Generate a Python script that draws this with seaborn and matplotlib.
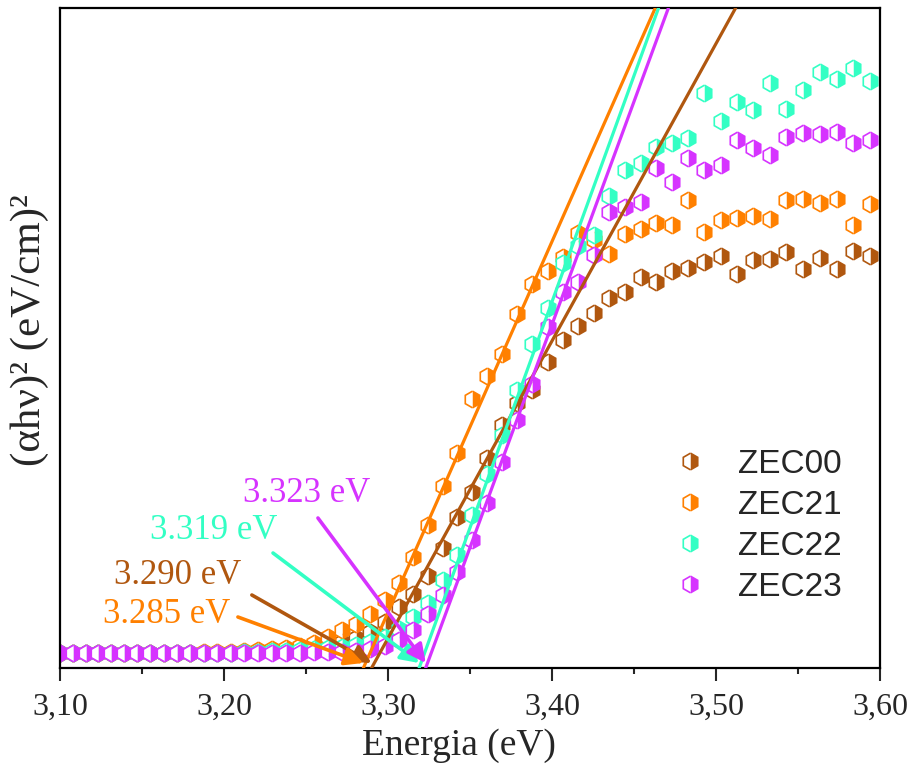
import numpy as np
import pandas as pd
import matplotlib
matplotlib.use('Agg')
import matplotlib.pyplot as plt
from matplotlib.lines import Line2D
import seaborn as sns

# photon energy (eV) of each measured point
energy = [3.1000, 3.1078, 3.1156, 3.1234, 3.1313, 3.1392, 3.1472, 3.1552, 3.1633, 3.1714,
          3.1795, 3.1877, 3.1959, 3.2041, 3.2124, 3.2208, 3.2292, 3.2376, 3.2461, 3.2546,
          3.2632, 3.2718, 3.2804, 3.2891, 3.2979, 3.3067, 3.3155, 3.3244, 3.3333, 3.3423,
          3.3514, 3.3604, 3.3696, 3.3787, 3.3880, 3.3973, 3.4066, 3.4160, 3.4254, 3.4349,
          3.4444, 3.4540, 3.4637, 3.4734, 3.4831, 3.4930, 3.5028, 3.5127, 3.5227, 3.5328,
          3.5429, 3.5530, 3.5632, 3.5735, 3.5838, 3.5942, 3.6047]

# (alpha h nu)^2, arbitrary units
zec00 = [15, 15, 15, 15, 15, 15, 15, 15, 15, 15, 15, 15, 15, 15, 16, 16, 17, 17, 18, 20,
         22, 26, 30, 36, 46, 61, 74, 92, 120, 151, 176, 210, 243, 265, 278, 306, 328, 342, 355, 370,
         376, 391, 386, 397, 400, 406, 412, 394, 408, 409, 416, 399, 410, 399, 417, 412, 415]
zec21 = [15, 15, 15, 15, 15, 15, 15, 15, 15, 15, 15, 16, 16, 16, 17, 18, 19, 20, 22, 25,
         31, 38, 44, 54, 68, 85, 111, 143, 182, 215, 269, 292, 314, 354, 384, 397, 411, 435, 428, 414,
         434, 439, 445, 443, 468, 436, 448, 450, 452, 449, 468, 469, 465, 469, 443, 464, 465]
zec22 = [15, 15, 15, 15, 15, 15, 15, 15, 15, 15, 15, 15, 15, 15, 16, 16, 17, 17, 18, 19,
         20, 21, 23, 26, 31, 39, 51, 65, 88, 113, 153, 194, 233, 278, 324, 360, 405, 422, 433, 472,
         498, 505, 521, 525, 530, 575, 547, 566, 558, 585, 559, 578, 596, 589, 600, 587, 590]
zec23 = [15, 15, 15, 15, 15, 15, 15, 15, 15, 15, 15, 15, 15, 15, 15, 15, 15, 15, 15, 16,
         16, 16, 17, 19, 22, 28, 38, 54, 73, 96, 128, 165, 206, 248, 284, 341, 376, 386, 413, 456,
         461, 466, 500, 486, 510, 498, 503, 528, 520, 513, 531, 535, 534, 536, 525, 528, 528]

samples = ['ZEC00', 'ZEC21', 'ZEC22', 'ZEC23']
colors = ['#B0570F', '#FF8000', '#33FFC4', '#D633FF']

# linear fits: energy where fit crosses zero and where it reaches top of plot (y=660)
fit_gap = [3.290, 3.285, 3.319, 3.323]
fit_top = [3.512, 3.463, 3.465, 3.471]
y_top = 660

xticks = [3.10, 3.20, 3.30, 3.40, 3.50, 3.60]
xticklabels = ['3,10', '3,20', '3,30', '3,40', '3,50', '3,60']

sns.set_style('ticks')
plt.rcParams['font.family'] = ['Liberation Serif', 'DejaVu Serif']

df = pd.DataFrame({'energy': energy, 'ZEC00': zec00, 'ZEC21': zec21,
                   'ZEC22': zec22, 'ZEC23': zec23})

fig = plt.figure(figsize=(9.1, 7.68), dpi=100)
ax = fig.add_axes([0.0659, 0.1302, 0.9011, 0.8594])

for name, c in zip(samples, colors):
    sns.lineplot(data=df, x='energy', y=name, ax=ax, color=c, linestyle='',
                 marker='h', markersize=12, fillstyle='right',
                 markerfacecoloralt='white', markeredgecolor=c,
                 markeredgewidth=1.2, estimator=None, sort=False, zorder=2)

for e0, e1, c in zip(fit_gap, fit_top, colors):
    sns.lineplot(x=[e0, e1], y=[0, y_top], ax=ax, color=c, lw=2.3,
                 estimator=None, sort=False, zorder=3)

# band gap labels with arrows (label centre, arrow tail) in data coords
label_pos = [(3.1720, 93), (3.1652, 54), (3.1939, 138), (3.2506, 175)]
arrow_tail = [(3.2170, 73), (3.2085, 51), (3.2299, 115), (3.2573, 150)]
for e0, c, lp, tail in zip(fit_gap, colors, label_pos, arrow_tail):
    ax.text(lp[0], lp[1], f'{e0:.3f} eV', color=c, fontsize=25,
            ha='center', va='center', zorder=5)
    ax.annotate('', xy=(e0, 5), xytext=tail,
                arrowprops=dict(arrowstyle='-|>,head_length=0.5,head_width=0.25',
                                color=c, lw=2.6, mutation_scale=22,
                                shrinkA=0, shrinkB=0),
                zorder=4)

ax.set_xlim(3.10, 3.60)
ax.set_ylim(0, y_top)
ax.set_xticks(xticks)
ax.set_xticklabels(xticklabels)
ax.set_xticks([3.15, 3.25, 3.35, 3.45, 3.55], minor=True)
ax.set_yticks([])
ax.tick_params(axis='x', which='major', direction='out', length=9, width=1.5,
               labelsize=23, pad=9)
ax.tick_params(axis='x', which='minor', direction='out', length=4.5, width=1.5)
for s in ax.spines.values():
    s.set_linewidth(1.6)
    s.set_color('black')

ax.set_xlabel('Energia (eV)', fontsize=27)
ax.xaxis.set_label_coords(0.487, -0.092)
ax.set_ylabel('(αhν)² (eV/cm)²', fontsize=31)
ax.yaxis.set_label_coords(-0.013, 0.512)

handles = [Line2D([], [], color=c, linestyle='', marker='h', markersize=12,
                  fillstyle='right', markerfacecoloralt='white',
                  markeredgecolor=c, markeredgewidth=1.2) for c in colors]
ax.legend(handles, samples, loc='upper left', bbox_to_anchor=(0.748, 0.332),
          frameon=False, borderpad=0, borderaxespad=0, handlelength=1.0,
          handletextpad=0.95, labelspacing=0.30,
          prop={'family': 'Liberation Sans', 'size': 24})

fig.savefig('out.png', dpi=100)
